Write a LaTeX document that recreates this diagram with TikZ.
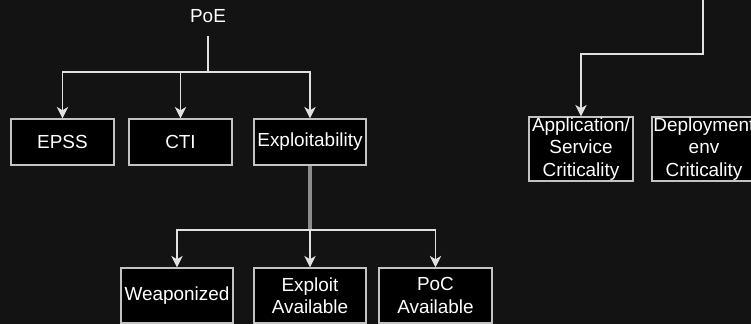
\documentclass[tikz,border=0pt]{standalone}
\usepackage{fontspec}
\setmainfont{Liberation Sans}
\usetikzlibrary{arrows.meta,positioning,calc}
\definecolor{BgDark}{RGB}{19,19,19}
\definecolor{EdgeGray}{RGB}{195,195,195}
\definecolor{LinkGray}{RGB}{225,225,225}
\definecolor{SelGray}{RGB}{140,140,140}

\begin{document}
\begin{tikzpicture}[x=0.75pt,y=0.75pt,
    box/.style={draw=EdgeGray,line width=1.1pt,fill=black,text=white,
      font=\fontsize{14.2}{16.6}\selectfont,align=center,inner sep=0pt,
      minimum width=#1*0.75pt,minimum height=46*0.75pt},
    link/.style={draw=LinkGray,line width=1.1pt,
      -{Stealth[length=8.5pt,width=8.5pt,inset=2.5pt]}}]
    \useasboundingbox (0,0) rectangle (751,324);
    \clip (0,0) rectangle (751,324);
    \fill[BgDark] (0,0) rectangle (751,324);
    % PoE branch
    \node[text=white,font=\fontsize{14.2}{16.6}\selectfont] (poe) at (208,308) {PoE};
    \node[box=103] (epss) at (62.5,182) {EPSS};
    \node[box=103] (cti) at (180.5,182) {CTI};
    \node[box=112] (expl) at (310,182) {Exploitability};
    \coordinate (split1) at (208,252);
    \draw[link,-] ($(poe.south)+(0,-9)$) -- (split1);
    \draw[link] (split1) -| (epss);
    \draw[link] (split1) -| (cti);
    \draw[link] (split1) -| (expl);
    % exploitability children
    \node[box=112,minimum height=55*0.75pt] (weap) at (177,28.5) {Weaponized};
    \node[box=112,minimum height=55*0.75pt] (exav) at (310,28.5) {Exploit\\Available};
    \node[box=113,minimum height=55*0.75pt] (poc) at (435.5,28.5) {PoC\\Available};
    \coordinate (split2) at (310,94);
    \draw[SelGray,line width=3.6pt] (expl.south) -- (split2);
    \draw[link] (split2) -| (weap);
    \draw[link] (split2) -- (exav);
    \draw[link] (split2) -| (poc);
    % criticality
    \node[box=104,minimum height=64*0.75pt] (app) at (581,175) {Application/\\Service\\Criticality};
    \node[box=104,minimum height=64*0.75pt] (dep) at (704,175) {Deployment\\env\\Criticality};
    \coordinate (src) at (703,326);
    \coordinate (bend) at (703,270);
    \draw[link] (src) -- (bend) -| (app);
\end{tikzpicture}
\end{document}
